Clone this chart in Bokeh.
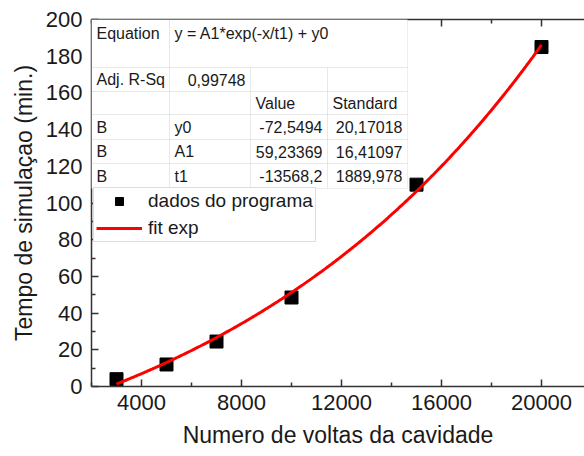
import numpy as np
from bokeh.plotting import figure
from bokeh.models import (Range1d, LinearAxis, FixedTicker, Legend, LegendItem,
                          BoxAnnotation, Label, Title)
from bokeh.embed import file_html
from bokeh.resources import INLINE

# Simulation time versus number of cavity turns
voltas = [3000, 5000, 7000, 10000, 15000, 20000]
tempo = [4, 12, 24.5, 48.5, 110, 185]

# Exponential fit parameters: y = A1*exp(-x/t1) + y0
fit_y0 = -72.5494
fit_A1 = 59.23369
fit_t1 = -13568.2

x_ticks = [4000, 8000, 12000, 16000, 20000]
x_minor = [2000, 6000, 10000, 14000, 18000]
y_ticks = list(range(0, 201, 20))
y_minor = list(range(10, 200, 20))

x_title = "Numero de voltas da cavidade"
y_title = "Tempo de simulaçao (min.)"

table_rows = [
    ["Equation", "y = A1*exp(-x/t1) + y0", "", ""],
    ["Adj. R-Sq", "0,99748", "", ""],
    ["", "", "Value", "Standard"],
    ["B", "y0", "-72,5494", "20,17018"],
    ["B", "A1", "59,23369", "16,41097"],
    ["B", "t1", "-13568,2", "1889,978"],
]

FONT = "Liberation Sans"
TXT = "#1a1a1a"

fit_x = np.linspace(voltas[0], voltas[-1], 300)
fit_curve = fit_A1 * np.exp(-fit_x / fit_t1) + fit_y0

W, H = 584, 456
frame_left, frame_top, frame_bottom = 91, 19, 386

p = figure(width=W, height=H, x_range=Range1d(2000, 21720), y_range=Range1d(0, 200),
           output_backend="svg", toolbar_location=None,
           min_border_left=frame_left, min_border_right=0, min_border_top=frame_top,
           min_border_bottom=H - frame_bottom)
p.outline_line_color = None
p.grid.visible = False

xt = FixedTicker(ticks=x_ticks, minor_ticks=x_minor)
yt = FixedTicker(ticks=y_ticks, minor_ticks=y_minor)


def style_axis(ax, ticker):
    ax.ticker = ticker
    ax.axis_line_color = "#333333"
    ax.axis_line_width = 1.5
    ax.major_tick_line_color = "#333333"
    ax.minor_tick_line_color = "#333333"
    ax.major_tick_line_width = 1.5
    ax.minor_tick_line_width = 1.5
    ax.major_tick_in = 7
    ax.major_tick_out = 0
    ax.minor_tick_in = 4
    ax.minor_tick_out = 0
    ax.major_label_text_font = FONT
    ax.major_label_text_font_size = "22px"
    ax.major_label_text_color = TXT
    ax.axis_label_text_font = FONT
    ax.axis_label_text_font_size = "23px"
    ax.axis_label_text_font_style = "normal"
    ax.axis_label_text_color = TXT


style_axis(p.xaxis[0], xt)
style_axis(p.yaxis[0], yt)
p.yaxis.axis_label = y_title
p.xaxis.major_label_standoff = 8
p.yaxis.major_label_standoff = 9
p.yaxis.axis_label_standoff = 6

# x-axis title set as a title in the bottom panel
p.add_layout(Title(text=x_title, align="center", offset=-10, vertical_align="bottom",
                   standoff=14, text_font=FONT, text_font_size="23px",
                   text_font_style="normal", text_color=TXT), "below")

# Mirror ticks along the top edge, without labels
top_axis = LinearAxis()
style_axis(top_axis, xt)
top_axis.major_label_text_color = None
top_axis.major_label_text_font_size = "1px"
top_axis.major_label_standoff = 0
p.add_layout(top_axis, "above")

r_pts = p.scatter(voltas, tempo, marker="square", size=13, color="black")
r_fit = p.line(fit_x, fit_curve, line_color="red", line_width=3)

# Parameter table (screen units, relative to the frame's bottom-left corner)
col_edges = [91, 169, 250, 327, 407]
row_edges = [19, 67, 91, 114, 139, 163, 188]
GRID = "#c8c8c8"


def cell(x0, x1, y0, y1):
    p.add_layout(BoxAnnotation(left=x0 - frame_left, right=x1 - frame_left,
                               top=frame_bottom - y0, bottom=frame_bottom - y1,
                               left_units="screen", right_units="screen",
                               top_units="screen", bottom_units="screen",
                               fill_color="white", fill_alpha=1.0,
                               line_color=GRID, line_width=1))


def put(text, x, y, align):
    p.add_layout(Label(x=x - frame_left, y=frame_bottom - y, x_units="screen", y_units="screen",
                       text=text, text_font=FONT, text_font_size="16px", text_color=TXT,
                       text_align=align, text_baseline="middle"))


for ri, row in enumerate(table_rows):
    y0, y1 = row_edges[ri], row_edges[ri + 1]
    if ri == 0:
        cell(col_edges[0], col_edges[1], y0, y1)
        cell(col_edges[1], col_edges[4], y0, y1)
        yc = y0 + 14
    else:
        for ci in range(4):
            cell(col_edges[ci], col_edges[ci + 1], y0, y1)
        yc = (y0 + y1) / 2
    for ci, txt in enumerate(row):
        if not txt:
            continue
        numeric = ri >= 1 and ci >= 1 and txt not in ("Value", "Standard") and not txt[0].isalpha()
        if numeric:
            put(txt, col_edges[ci + 1] - 5, yc, "right")
        else:
            put(txt, col_edges[ci] + 5, yc, "left")

legend = Legend(items=[LegendItem(label="dados do programa", renderers=[r_pts]),
                       LegendItem(label="fit exp", renderers=[r_fit])],
                location=(2, 144), orientation="vertical",
                label_text_font=FONT, label_text_font_size="19px", label_text_color=TXT,
                glyph_width=46, glyph_height=20, label_height=20, label_standoff=6,
                spacing=5, padding=2, margin=0,
                border_line_color="#bbbbbb", border_line_width=1,
                background_fill_color="white", background_fill_alpha=1.0)
p.add_layout(legend)

open("out.html", "w").write(file_html(p, INLINE))
